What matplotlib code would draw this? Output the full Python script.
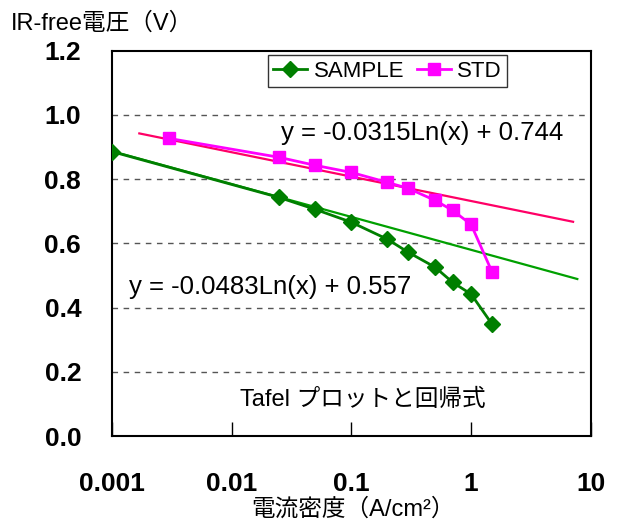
import numpy as np
import matplotlib
matplotlib.use("Agg")
import matplotlib.pyplot as plt

plt.rcParams["font.family"] = ["Liberation Sans", "Noto Sans CJK JP"]

# current density (A/cm2) and IR-free voltage (V)
sample_x = [0.001, 0.025, 0.05, 0.1, 0.2, 0.3, 0.5, 0.7, 1.0, 1.5]
sample_y = [0.886, 0.743, 0.706, 0.666, 0.613, 0.572, 0.526, 0.479, 0.442, 0.348]
std_x = [0.003, 0.025, 0.05, 0.1, 0.2, 0.3, 0.5, 0.7, 1.0, 1.5]
std_y = [0.927, 0.868, 0.843, 0.821, 0.790, 0.771, 0.734, 0.703, 0.659, 0.510]

# log trendlines as drawn: y = a*ln(x) + b over [x0, x1]
sample_fit = (-0.0445, 0.580, 0.001, 7.7)
std_fit = (-0.0330, 0.732, 0.0017, 7.1)
sample_eq = "y = -0.0483Ln(x) + 0.557"
std_eq = "y = -0.0315Ln(x) + 0.744"

x_ticks = [0.001, 0.01, 0.1, 1, 10]
x_ticklabels = ["0.001", "0.01", "0.1", "1", "10"]
y_ticks = [0.0, 0.2, 0.4, 0.6, 0.8, 1.0, 1.2]

GREEN = "#007f00"
GREEN_FIT = "#00a000"
MAGENTA = "#ff00ff"
PINK_FIT = "#ff0066"

fig = plt.figure(figsize=(6.22, 5.28), dpi=100)
ax = fig.add_axes([0.1796, 0.174, 0.7704, 0.730])

for (a, b, x0, x1), c in [(sample_fit, GREEN_FIT), (std_fit, PINK_FIT)]:
    xs = np.array([x0, x1])
    ax.plot(xs, a * np.log(xs) + b, color=c, lw=1.6, zorder=2)

ax.plot(sample_x, sample_y, color=GREEN, lw=2, marker="D", ms=8,
        label="SAMPLE", zorder=3)
ax.plot(std_x, std_y, color=MAGENTA, lw=2, marker="s", ms=9,
        label="STD", zorder=3)

ax.set_xscale("log")
ax.set_xlim(0.001, 10)
ax.set_ylim(0, 1.2)
ax.set_xticks(x_ticks)
ax.set_xticklabels(x_ticklabels)
ax.xaxis.set_minor_locator(matplotlib.ticker.NullLocator())
ax.set_yticks(y_ticks)
ax.set_yticklabels([f"{v:.1f}" for v in y_ticks])

for v in y_ticks[1:-1]:
    ax.axhline(v, color="#555555", lw=1, ls=(0, (4, 4)), zorder=1)

ax.tick_params(axis="x", direction="in", length=10, width=1, pad=26,
               labelsize=19)
ax.tick_params(axis="y", length=0, pad=22, labelsize=19)
for lab in ax.get_xticklabels() + ax.get_yticklabels():
    lab.set_fontweight("bold")
for s in ax.spines.values():
    s.set_linewidth(1.5)

ax.text(0.39, 0.945, std_eq, fontsize=18.5, va="center", ha="center")
ax.text(0.021, 0.464, sample_eq, fontsize=18.5, va="center", ha="center")
ax.text(0.125, 0.112, "Tafel プロットと回帰式", fontsize=17, va="center", ha="center")

leg = ax.legend(loc="upper left", bbox_to_anchor=(0.326, 0.988), ncol=2,
                fontsize=16, frameon=True, fancybox=False, edgecolor="black",
                handlelength=1.5, handletextpad=0.3, columnspacing=0.6,
                borderpad=0.25, borderaxespad=0)
leg.get_frame().set_linewidth(1)

fig.text(0.018, 0.955, "IR-free電圧（V）", fontsize=17, va="center", ha="left")
fig.text(0.567, 0.035, "電流密度（A/cm²）", fontsize=17, va="center", ha="center")

fig.savefig("out.png", dpi=100)
